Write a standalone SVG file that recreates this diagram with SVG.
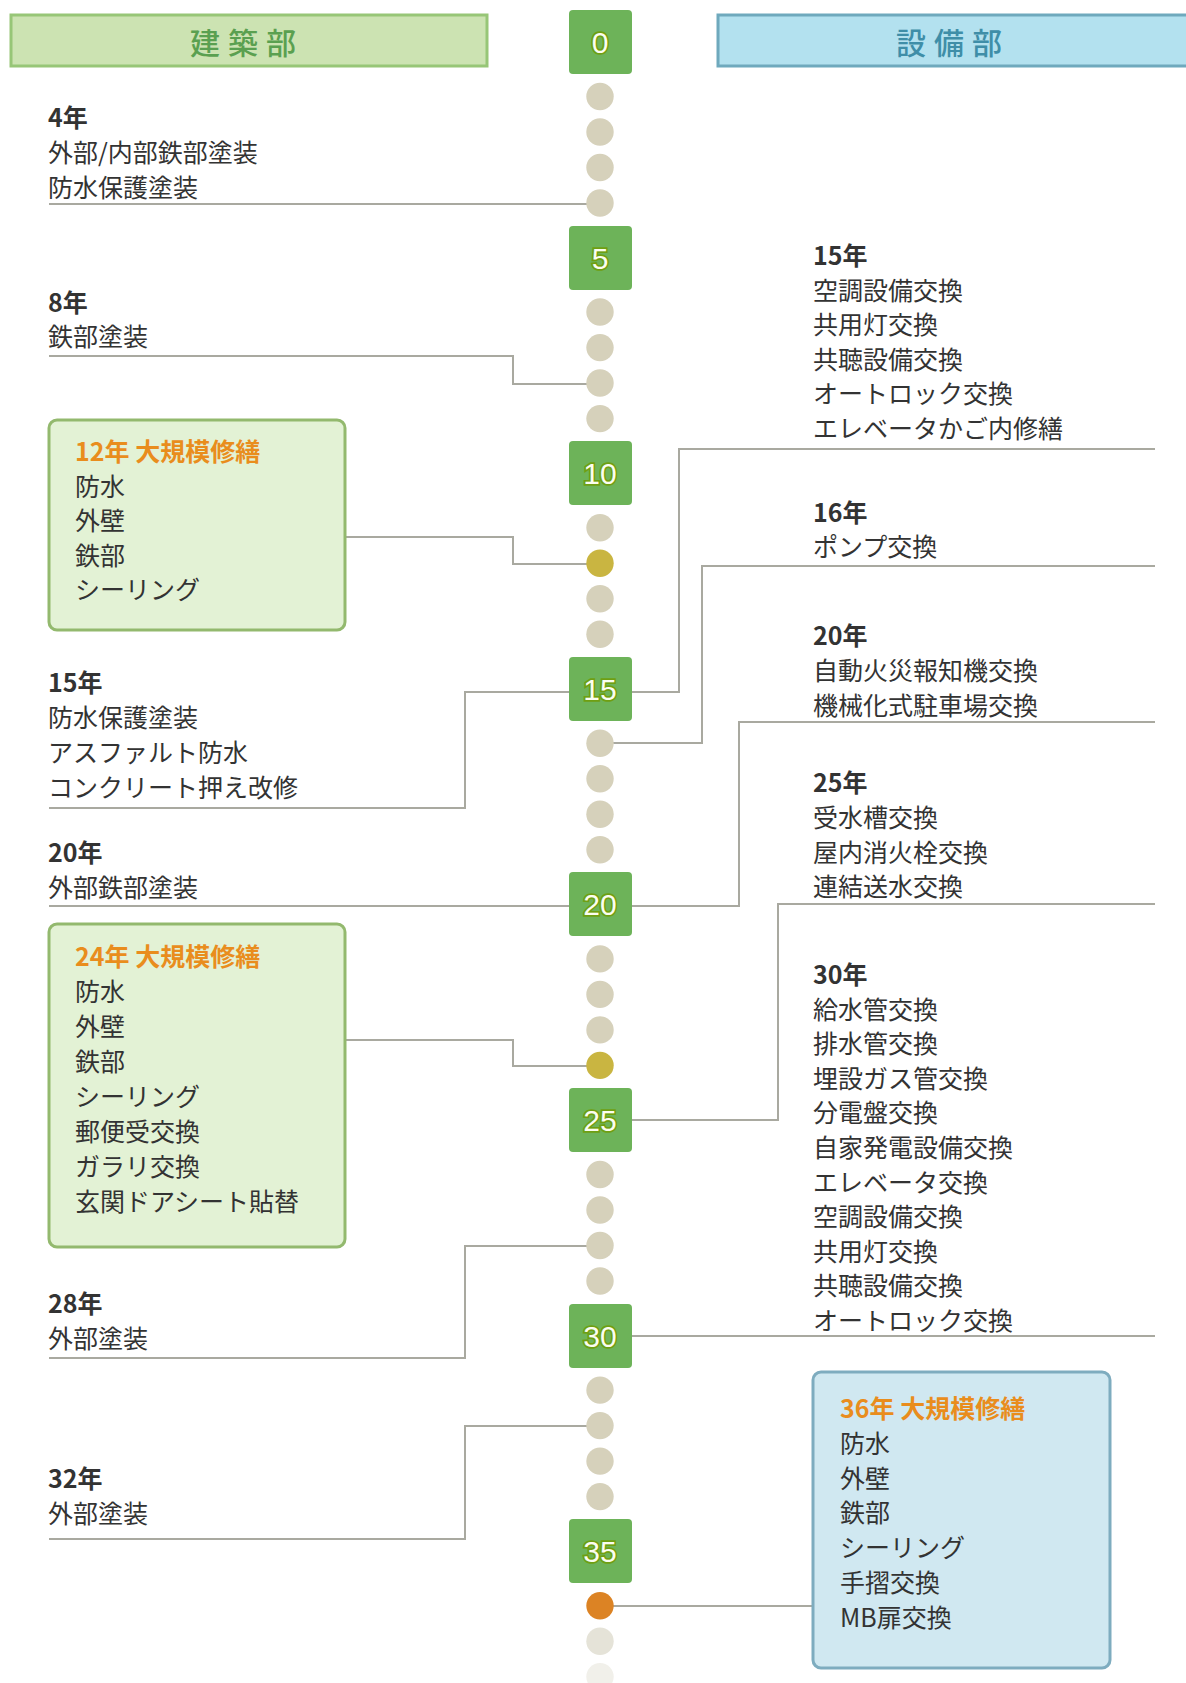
<svg xmlns="http://www.w3.org/2000/svg" width="1186" height="1683" viewBox="0 0 1186 1683">
<style>
.t{font-family:"Noto Sans CJK JP","Noto Sans",sans-serif;font-size:25px;fill:#333}
.b{font-weight:bold}
.o{font-weight:bold;fill:#e98d1d}
.c{fill:none;stroke:#a9a9a0;stroke-width:2}
.d{fill:#d6d1bb}
.yb{fill:#6db359}
.yn{font-family:"Liberation Sans",sans-serif;font-size:30px;fill:#fbfdf0;stroke:#6f9f12;stroke-width:3.5;paint-order:stroke;text-anchor:middle}
.hd{font-family:"Noto Sans CJK JP",sans-serif;font-size:30px;font-weight:500;letter-spacing:8px;text-anchor:middle}
.gbox{fill:#e3f2d5;stroke:#93b96e;stroke-width:3}
.bbox{fill:#d0e8f1;stroke:#7eacbf;stroke-width:3}
</style>
<rect width="1186" height="1683" fill="#fff"/>
<g id="header-kenchiku">
<rect x="11" y="15" width="476" height="51" fill="#cce3b2" stroke="#97c677" stroke-width="3"/>
<text class="hd" x="247" y="54" fill="#5aa050">建築部</text>
</g>
<g id="header-setsubi">
<rect x="718" y="15" width="480" height="51" fill="#b3e1ef" stroke="#6fa9bd" stroke-width="3"/>
<text class="hd" x="953" y="54" fill="#3f8ea8">設備部</text>
</g>
<g id="connectors">
<polyline class="c" points="49,204 600,204"/>
<polyline class="c" points="49,356 513,356 513,384 600,384"/>
<polyline class="c" points="345,537 513,537 513,564 600,564"/>
<polyline class="c" points="49,808 465,808 465,692 600,692"/>
<polyline class="c" points="49,906 600,906"/>
<polyline class="c" points="345,1040 513,1040 513,1066 600,1066"/>
<polyline class="c" points="49,1358 465,1358 465,1246 600,1246"/>
<polyline class="c" points="49,1539 465,1539 465,1426 600,1426"/>
<polyline class="c" points="1155,449 679,449 679,692 600,692"/>
<polyline class="c" points="1155,566 702,566 702,743 600,743"/>
<polyline class="c" points="1155,722 739,722 739,906 600,906"/>
<polyline class="c" points="1155,904 778,904 778,1120 600,1120"/>
<polyline class="c" points="1155,1336 600,1336"/>
<polyline class="c" points="600,1606 813,1606"/>
</g>
<g id="timeline-dots">
<circle class="d" cx="600" cy="96.5" r="13.7"/>
<circle class="d" cx="600" cy="132" r="13.7"/>
<circle class="d" cx="600" cy="167.5" r="13.7"/>
<circle class="d" cx="600" cy="203" r="13.7"/>
<circle class="d" cx="600" cy="312" r="13.7"/>
<circle class="d" cx="600" cy="347.6" r="13.7"/>
<circle class="d" cx="600" cy="383" r="13.7"/>
<circle class="d" cx="600" cy="418.6" r="13.7"/>
<circle class="d" cx="600" cy="527.7" r="13.7"/>
<circle cx="600" cy="563.2" r="13.7" fill="#c9b541"/>
<circle class="d" cx="600" cy="598.7" r="13.7"/>
<circle class="d" cx="600" cy="634.2" r="13.7"/>
<circle class="d" cx="600" cy="743.3" r="13.7"/>
<circle class="d" cx="600" cy="778.8" r="13.7"/>
<circle class="d" cx="600" cy="814.3" r="13.7"/>
<circle class="d" cx="600" cy="849.8" r="13.7"/>
<circle class="d" cx="600" cy="958.9" r="13.7"/>
<circle class="d" cx="600" cy="994.4" r="13.7"/>
<circle class="d" cx="600" cy="1029.9" r="13.7"/>
<circle cx="600" cy="1065.4" r="13.7" fill="#c9b541"/>
<circle class="d" cx="600" cy="1174.5" r="13.7"/>
<circle class="d" cx="600" cy="1210" r="13.7"/>
<circle class="d" cx="600" cy="1245.5" r="13.7"/>
<circle class="d" cx="600" cy="1281" r="13.7"/>
<circle class="d" cx="600" cy="1390.1" r="13.7"/>
<circle class="d" cx="600" cy="1425.6" r="13.7"/>
<circle class="d" cx="600" cy="1461.1" r="13.7"/>
<circle class="d" cx="600" cy="1496.6" r="13.7"/>
<circle cx="600" cy="1605.7" r="13.7" fill="#dc8324"/>
<circle cx="600" cy="1641.2" r="13.7" fill="#e5e3d8"/>
<circle cx="600" cy="1676.7" r="13.7" fill="#f1f0ea"/>
</g>
<g id="year-0"><rect class="yb" x="569" y="10" width="63" height="64" rx="4"/><text class="yn" x="600" y="53">0</text></g>
<g id="year-5"><rect class="yb" x="569" y="226" width="63" height="64" rx="4"/><text class="yn" x="600" y="269">5</text></g>
<g id="year-10"><rect class="yb" x="569" y="441" width="63" height="64" rx="4"/><text class="yn" x="600" y="484">10</text></g>
<g id="year-15"><rect class="yb" x="569" y="657" width="63" height="64" rx="4"/><text class="yn" x="600" y="700">15</text></g>
<g id="year-20"><rect class="yb" x="569" y="872" width="63" height="64" rx="4"/><text class="yn" x="600" y="915">20</text></g>
<g id="year-25"><rect class="yb" x="569" y="1088" width="63" height="64" rx="4"/><text class="yn" x="600" y="1131">25</text></g>
<g id="year-30"><rect class="yb" x="569" y="1304" width="63" height="64" rx="4"/><text class="yn" x="600" y="1347">30</text></g>
<g id="year-35"><rect class="yb" x="569" y="1519" width="63" height="64" rx="4"/><text class="yn" x="600" y="1562">35</text></g>

<g id="kenchiku-4">
<text class="t b" x="48" y="127">4年</text>
<text class="t" x="48" y="162">外部/内部鉄部塗装</text>
<text class="t" x="48" y="197">防水保護塗装</text>
</g>
<g id="kenchiku-8">
<text class="t b" x="48" y="312">8年</text>
<text class="t" x="48" y="346">鉄部塗装</text>
</g>
<g id="kenchiku-12">
<rect class="gbox" x="49" y="420" width="296" height="210" rx="8"/>
<text class="t o" x="75" y="461">12年 大規模修繕</text>
<text class="t" x="75" y="495.5">防水</text>
<text class="t" x="75" y="530">外壁</text>
<text class="t" x="75" y="564.5">鉄部</text>
<text class="t" x="75" y="599">シーリング</text>
</g>
<g id="kenchiku-15">
<text class="t b" x="48" y="692">15年</text>
<text class="t" x="48" y="727">防水保護塗装</text>
<text class="t" x="48" y="762">アスファルト防水</text>
<text class="t" x="48" y="797">コンクリート押え改修</text>
</g>
<g id="kenchiku-20">
<text class="t b" x="48" y="862">20年</text>
<text class="t" x="48" y="897">外部鉄部塗装</text>
</g>
<g id="kenchiku-24">
<rect class="gbox" x="49" y="924" width="296" height="323" rx="8"/>
<text class="t o" x="75" y="966">24年 大規模修繕</text>
<text class="t" x="75" y="1001">防水</text>
<text class="t" x="75" y="1036">外壁</text>
<text class="t" x="75" y="1071">鉄部</text>
<text class="t" x="75" y="1106">シーリング</text>
<text class="t" x="75" y="1141">郵便受交換</text>
<text class="t" x="75" y="1176">ガラリ交換</text>
<text class="t" x="75" y="1211">玄関ドアシート貼替</text>
</g>
<g id="kenchiku-28">
<text class="t b" x="48" y="1313">28年</text>
<text class="t" x="48" y="1348">外部塗装</text>
</g>
<g id="kenchiku-32">
<text class="t b" x="48" y="1488">32年</text>
<text class="t" x="48" y="1523">外部塗装</text>
</g>

<g id="setsubi-15">
<text class="t b" x="813" y="265">15年</text>
<text class="t" x="813" y="299.5">空調設備交換</text>
<text class="t" x="813" y="334">共用灯交換</text>
<text class="t" x="813" y="368.5">共聴設備交換</text>
<text class="t" x="813" y="403">オートロック交換</text>
<text class="t" x="813" y="438">エレベータかご内修繕</text>
</g>
<g id="setsubi-16">
<text class="t b" x="813" y="522">16年</text>
<text class="t" x="813" y="556">ポンプ交換</text>
</g>
<g id="setsubi-20">
<text class="t b" x="813" y="645">20年</text>
<text class="t" x="813" y="680">自動火災報知機交換</text>
<text class="t" x="813" y="714.5">機械化式駐車場交換</text>
</g>
<g id="setsubi-25">
<text class="t b" x="813" y="792">25年</text>
<text class="t" x="813" y="827">受水槽交換</text>
<text class="t" x="813" y="862">屋内消火栓交換</text>
<text class="t" x="813" y="896">連結送水交換</text>
</g>
<g id="setsubi-30">
<text class="t b" x="813" y="984">30年</text>
<text class="t" x="813" y="1018.6">給水管交換</text>
<text class="t" x="813" y="1053.2">排水管交換</text>
<text class="t" x="813" y="1087.8">埋設ガス管交換</text>
<text class="t" x="813" y="1122.4">分電盤交換</text>
<text class="t" x="813" y="1157">自家発電設備交換</text>
<text class="t" x="813" y="1191.6">エレベータ交換</text>
<text class="t" x="813" y="1226.2">空調設備交換</text>
<text class="t" x="813" y="1260.8">共用灯交換</text>
<text class="t" x="813" y="1295.4">共聴設備交換</text>
<text class="t" x="813" y="1330">オートロック交換</text>
</g>
<g id="setsubi-36">
<rect class="bbox" x="813" y="1372" width="297" height="296" rx="8"/>
<text class="t o" x="840" y="1418">36年 大規模修繕</text>
<text class="t" x="840" y="1453">防水</text>
<text class="t" x="840" y="1488">外壁</text>
<text class="t" x="840" y="1522">鉄部</text>
<text class="t" x="840" y="1557">シーリング</text>
<text class="t" x="840" y="1592">手摺交換</text>
<text class="t" x="840" y="1627">MB扉交換</text>
</g>
</svg>
